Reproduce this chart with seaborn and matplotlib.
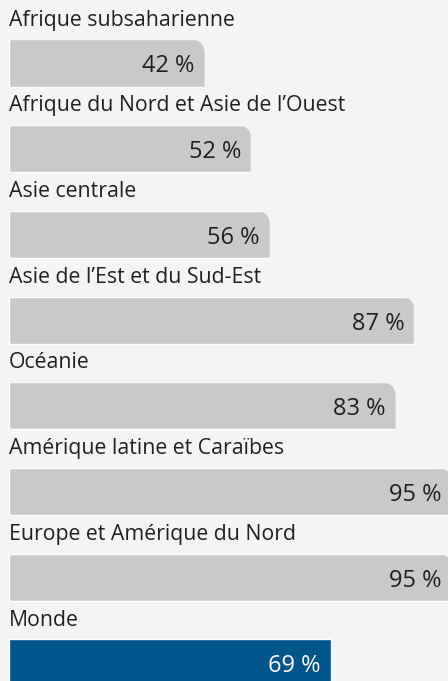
import matplotlib
matplotlib.use("Agg")
import matplotlib.pyplot as plt
import seaborn as sns
import pandas as pd
from matplotlib.patches import FancyBboxPatch
from matplotlib.transforms import IdentityTransform

# Données
regions = [
    "Afrique subsaharienne",
    "Afrique du Nord et Asie de l’Ouest",
    "Asie centrale",
    "Asie de l’Est et du Sud-Est",
    "Océanie",
    "Amérique latine et Caraïbes",
    "Europe et Amérique du Nord",
    "Monde",
]
valeurs = [42, 52, 56, 87, 83, 95, 95, 69]
couleurs = ["#c8c9cb"] * 7 + ["#00558b"]

df = pd.DataFrame({"Région": regions, "Valeur": valeurs})

FOND = "#f4f4f4"
TEXTE = "#231f20"

sns.set_style("white")
plt.rcParams["font.family"] = ["Open Sans", "DejaVu Sans"]

fig = plt.figure(figsize=(4.48, 6.81), dpi=100, facecolor=FOND)
ax = fig.add_axes([0, 0, 1, 1])
ax.set_facecolor(FOND)

sns.barplot(data=df, x="Valeur", y="Région", hue="Région", palette=couleurs,
            legend=False, width=0.55, orient="h", ax=ax, saturation=1)

ax.set_xlim(-1.93, 94.2)
ax.set_ylim(7.21, -0.735)
ax.axis("off")

# Coins arrondis (en haut à droite) pour les barres grises
rayon = 15
for i, patch in enumerate(ax.patches):
    if i == len(regions) - 1:
        continue
    x0, y0 = patch.get_x(), patch.get_y()
    w, h = patch.get_width(), patch.get_height()
    (px0, py0) = ax.transData.transform((x0, y0 + h))
    (px1, py1) = ax.transData.transform((x0 + w, y0))
    clip = FancyBboxPatch((px0 - rayon, py0 - rayon),
                          (px1 - px0) + rayon, (py1 - py0) + rayon,
                          boxstyle=f"round,pad=0,rounding_size={rayon}",
                          transform=IdentityTransform(), facecolor="none")
    patch.set_clip_path(clip)

# Étiquettes
for i, (reg, val) in enumerate(zip(regions, valeurs)):
    ax.text(0, i - 0.5, reg, ha="left", va="center", fontsize=15.3,
            color=TEXTE)
    couleur_val = "white" if i == len(regions) - 1 else TEXTE
    ax.text(val - 2.2, i + 0.04, f"{val} %", ha="right", va="center",
            fontsize=17, color=couleur_val)

plt.savefig("out.png", dpi=100, facecolor=FOND)
plt.close()
